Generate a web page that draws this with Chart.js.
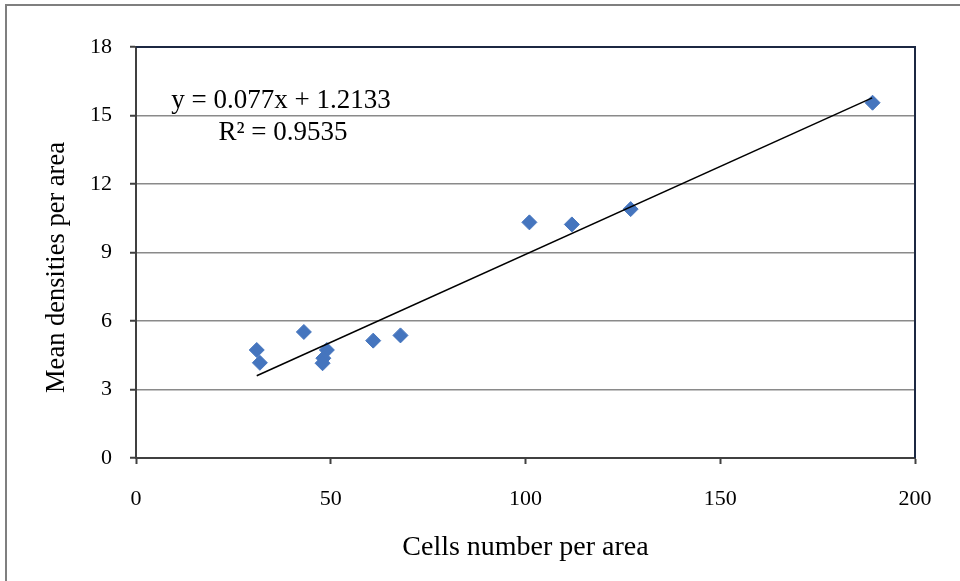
<!DOCTYPE html>
<html>
<head>
<meta charset="utf-8">
<script src="https://cdn.jsdelivr.net/npm/chart.js@4/dist/chart.umd.min.js"></script>
<style>
    html, body { margin: 0; padding: 0; background: #fff; overflow: hidden; }
    #wrap { position: relative; width: 960px; height: 581px; }
    #frame {
        position: absolute; left: 5px; top: 4px; width: 1200px; height: 1200px;
        border-left: 2px solid #7f7f7f; border-top: 2px solid #7f7f7f;
    }
    canvas { position: absolute; left: 0; top: 0; }
</style>
</head>
<body>
<div id="wrap">
    <div id="frame"></div>
    <canvas id="chart" width="960" height="581"></canvas>
</div>
<script>
// ---------------- DATA ----------------
const cellsX = [31, 31.8, 43.1, 49, 48.1, 47.9, 60.9, 67.9, 101, 111.9, 127, 189.1];
const densityY = [4.73, 4.17, 5.52, 4.73, 4.37, 4.15, 5.14, 5.37, 10.32, 10.23, 10.9, 15.56];

// trendline end points as drawn
const trendX = [31, 189];
const trendY = [3.60, 15.77];

const equationText = "y = 0.077x + 1.2133";
const r2Text = "R² = 0.9535";

const xTitle = "Cells number per area";
const yTitle = "Mean densities per area";

const SERIF = "'Liberation Serif', 'Times New Roman', serif";

// ---------------- PLUGINS ----------------
const plotFrame = {
    id: "plotFrame",
    afterDatasetsDraw(chart) {
        const a = chart.chartArea;
        const ctx = chart.ctx;
        ctx.save();
        ctx.strokeStyle = "#1c2842";
        ctx.lineWidth = 2;
        ctx.beginPath();
        ctx.moveTo(a.left, a.top);
        ctx.lineTo(a.right, a.top);
        ctx.lineTo(a.right, a.bottom);
        ctx.stroke();
        ctx.restore();
    }
};

// equation box + y axis title (sits a bit below the plot centre, like the original)
const textLabels = {
    id: "textLabels",
    afterDraw(chart) {
        const a = chart.chartArea;
        const ctx = chart.ctx;
        ctx.save();
        ctx.fillStyle = "#000";
        ctx.font = "27px " + SERIF;
        ctx.textAlign = "center";
        ctx.textBaseline = "middle";
        ctx.fillText(equationText, a.left + 145, a.top + 54);
        ctx.fillText(r2Text, a.left + 147, a.top + 86);

        ctx.font = "26.5px " + SERIF;
        ctx.translate(57, (a.top + a.bottom) / 2 + 15);
        ctx.rotate(-Math.PI / 2);
        ctx.fillText(yTitle, 0, 0);
        ctx.restore();
    }
};

// ---------------- CHART ----------------
const ctx = document.getElementById("chart").getContext("2d");

new Chart(ctx, {
    type: "scatter",
    data: {
        datasets: [
            {
                label: "Trend",
                type: "line",
                data: trendX.map((x, i) => ({ x: x, y: trendY[i] })),
                borderColor: "#000",
                borderWidth: 1.5,
                pointRadius: 0,
                fill: false
            },
            {
                label: "Density",
                data: cellsX.map((x, i) => ({ x: x, y: densityY[i] })),
                pointStyle: "rectRot",
                pointRadius: 7.5,
                pointBackgroundColor: "#4575be",
                pointBorderColor: "#4575be",
                pointBorderWidth: 1
            }
        ]
    },
    plugins: [plotFrame, textLabels],
    options: {
        responsive: false,
        animation: false,
        layout: { padding: { left: 0, top: 47, right: 45, bottom: 0 } },
        plugins: {
            legend: { display: false },
            tooltip: { enabled: false }
        },
        scales: {
            x: {
                type: "linear",
                min: 0,
                max: 200,
                afterFit(scale) { scale.height = 123; },
                ticks: {
                    stepSize: 50,
                    color: "#000",
                    padding: 22,
                    maxRotation: 0,
                    font: { family: SERIF, size: 22 }
                },
                grid: {
                    color: "rgba(0,0,0,0)",
                    tickColor: "#404040",
                    tickLength: 6,
                    tickWidth: 2
                },
                border: { color: "#404040", width: 2 },
                title: {
                    display: true,
                    text: xTitle,
                    color: "#000",
                    font: { family: SERIF, size: 28 },
                    padding: { top: 4, bottom: 17 }
                }
            },
            y: {
                min: 0,
                max: 18,
                afterFit(scale) { scale.width = 136; },
                ticks: {
                    stepSize: 3,
                    color: "#000",
                    padding: 18,
                    font: { family: SERIF, size: 22 }
                },
                grid: {
                    color: "#8a8a8a",
                    lineWidth: 1.5,
                    tickColor: "#404040",
                    tickLength: 6,
                    tickWidth: 2
                },
                border: { color: "#404040", width: 2 }
            }
        }
    }
});
</script>
</body>
</html>
